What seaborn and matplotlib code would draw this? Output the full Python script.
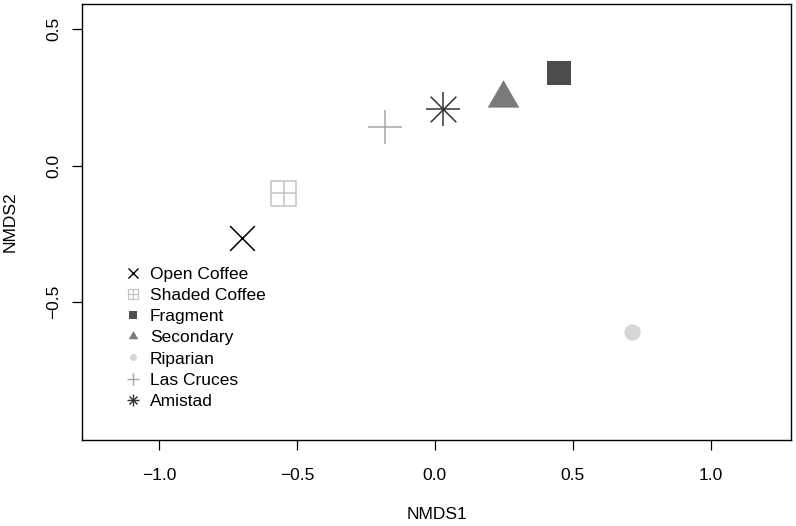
import numpy as np
import pandas as pd
import matplotlib
matplotlib.use("Agg")
import matplotlib.pyplot as plt
import seaborn as sns
from matplotlib.lines import Line2D

# NMDS site scores
sites = ["Open Coffee", "Shaded Coffee", "Fragment", "Secondary",
         "Riparian", "Las Cruces", "Amistad"]
nmds1 = [-0.698, -0.548, 0.449, 0.246, 0.716, -0.179, 0.030]
nmds2 = [-0.264, -0.101, 0.338, 0.249, -0.608, 0.142, 0.208]

df = pd.DataFrame({"site": sites, "NMDS1": nmds1, "NMDS2": nmds2})

sns.set_style("ticks")
plt.rcParams['font.family'] = ['Liberation Sans', 'DejaVu Sans']
plt.rcParams['font.size'] = 12.5
plt.rcParams['text.color'] = 'black'
plt.rcParams['axes.labelcolor'] = 'black'

# equilateral triangle, centroid at origin
tri = [(-1, -0.5774), (1, -0.5774), (0, 1.1547), (-1, -0.5774)]

# (marker layers, colour, size, linewidth) per site
styles = {
    "Open Coffee":   [("x", "#000000", 317, 1.1)],
    "Shaded Coffee": [("s", "#c4c4c4", 317, 1.1), ("+", "#c4c4c4", 317, 1.1)],
    "Fragment":      [("s", "#4d4d4d", 282, 0)],
    "Secondary":     [(tri, "#7a7a7a", 692, 0)],
    "Riparian":      [("o", "#d6d6d6", 139, 0)],
    "Las Cruces":    [("+", "#a6a6a6", 610, 1.1)],
    "Amistad":       [("+", "#333333", 625, 1.1), ("x", "#333333", 342, 1.1)],
}

fig = plt.figure(figsize=(7.96, 5.26), dpi=100)
ax = fig.add_axes([82/796, 1 - 440/526, (791-82)/796, (440-4)/526])

for site in sites:
    sub = df[df["site"] == site]
    for m, col, s, lw in styles[site]:
        if m == "s" and site == "Shaded Coffee":
            sns.scatterplot(data=sub, x="NMDS1", y="NMDS2", marker=m, s=s,
                            color=col, facecolor="none", edgecolor=col,
                            linewidth=lw, ax=ax, legend=False, zorder=3)
        elif lw == 0:
            sns.scatterplot(data=sub, x="NMDS1", y="NMDS2", marker=m, s=s,
                            color=col, edgecolor=col, linewidth=0,
                            ax=ax, legend=False, zorder=3)
        else:
            sns.scatterplot(data=sub, x="NMDS1", y="NMDS2", marker=m, s=s,
                            color=col, linewidth=lw, ax=ax, legend=False,
                            zorder=3)

ax.set_xlim(-1.279, 1.291)
ax.set_ylim(-1.005, 0.592)
ax.set_xticks([-1.0, -0.5, 0.0, 0.5, 1.0])
ax.set_yticks([-0.5, 0.0, 0.5])
ax.set_xticklabels(["\u22121.0", "\u22120.5", "0.0", "0.5", "1.0"])
ax.set_yticklabels(["\u22120.5", "0.0", "0.5"], rotation=90, va="center")
ax.tick_params(direction="out", length=7.2, width=0.9,
               labelsize=12.5, colors="black")
ax.tick_params(axis="x", pad=13)
ax.tick_params(axis="y", pad=8)
for sp in ax.spines.values():
    sp.set_visible(True)
    sp.set_linewidth(1.0)
    sp.set_color("black")
ax.set_xlabel("NMDS1", fontsize=12.5, labelpad=17.5, color="black")
ax.set_ylabel("NMDS2", fontsize=12.5, labelpad=20, color="black")

# legend with small R-like symbols
def h(marker, col, ms, filled=True, lw=1.0):
    if filled:
        return Line2D([], [], ls="none", marker=marker, color=col,
                      markerfacecolor=col, markeredgecolor=col,
                      markersize=ms, markeredgewidth=0)
    return Line2D([], [], ls="none", marker=marker, color=col,
                  markerfacecolor="none", markeredgecolor=col,
                  markersize=ms, markeredgewidth=lw)

handles = [
    h("x", "#000000", 7.2, False),
    (h("s", "#c4c4c4", 7.2, False, 0.9), h("+", "#c4c4c4", 7.2, False, 0.9)),
    h("s", "#4d4d4d", 5.8),
    h(tri, "#7a7a7a", 7.9),
    h("o", "#d6d6d6", 5.0),
    h("+", "#a6a6a6", 8.6, False),
    (h("+", "#333333", 8.0, False), h("x", "#333333", 5.8, False)),
]
leg = ax.legend(handles, sites, loc="upper left",
                bbox_to_anchor=(124/796, 1 - 266.5/526),
                bbox_transform=fig.transFigure,
                frameon=False, borderpad=0, handlelength=1.0,
                handletextpad=0.5, labelspacing=0.35, fontsize=12.5,
                borderaxespad=0)
for t in leg.get_texts():
    t.set_color("black")

fig.savefig("out.png", dpi=100)
